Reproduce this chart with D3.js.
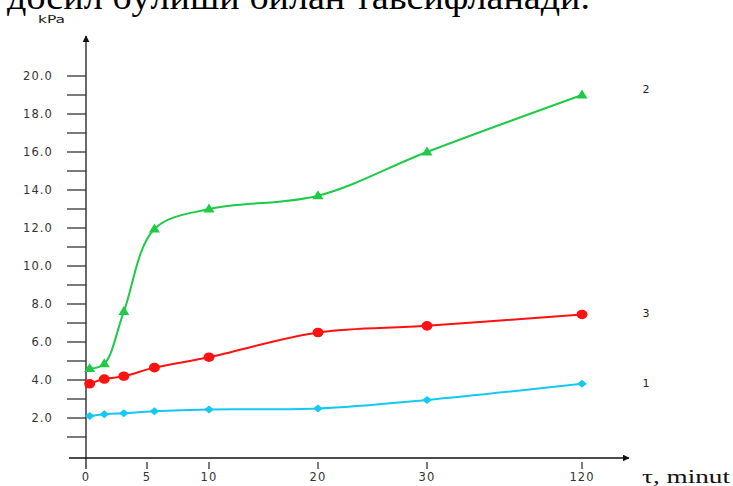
<!DOCTYPE html>
<html>
<head>
<meta charset="utf-8">
<script src="https://cdn.jsdelivr.net/npm/d3@7"></script>
<style>
  html, body { margin: 0; padding: 0; background: #fff; }
  svg { display: block; }
</style>
</head>
<body>
<svg id="chart" width="733" height="486"></svg>
<script>
// Sampling times (minutes) shared by the three series
const times = [0.3, 1.5, 3.1, 5.6, 10, 20, 30, 120];
// Pressure, kPa
const series1 = [2.1, 2.2, 2.25, 2.35, 2.45, 2.5, 2.95, 3.8];
const series2 = [4.6, 4.85, 7.6, 11.95, 13.0, 13.7, 16.0, 19.0];
const series3 = [3.8, 4.05, 4.2, 4.65, 5.2, 6.5, 6.85, 7.45];
const seriesNames = ["1", "2", "3"];

// Axis tick labels
const xTicks = [0, 5, 10, 20, 30, 120];
const yTicks = [2, 4, 6, 8, 10, 12, 14, 16, 18, 20];
const yMinorTicks = d3.range(1, 21);

const headline = "досил бўлиши билан тавсифланади.";

const svg = d3.select("#chart");

// The time axis is stretched unevenly: each labelled interval gets its own span
const x = d3.scaleLinear()
  .domain(xTicks)
  .range([86, 147, 209, 318, 427, 582]);
const y = d3.scaleLinear().domain([0, 20]).range([456, 76]);

// Partial line of body text above the figure
svg.append("text")
  .attr("x", 7).attr("y", 9)
  .attr("font-family", "Liberation Serif, Times New Roman, serif")
  .attr("font-size", 35)
  .attr("textLength", 583)
  .attr("lengthAdjust", "spacingAndGlyphs")
  .attr("fill", "#000")
  .text(headline);

// Arrow heads
const defs = svg.append("defs");
defs.append("marker")
  .attr("id", "arrow")
  .attr("viewBox", "0 0 10 10")
  .attr("refX", 9).attr("refY", 5)
  .attr("markerWidth", 7).attr("markerHeight", 7)
  .attr("markerUnits", "userSpaceOnUse")
  .attr("orient", "auto")
  .append("path").attr("d", "M0,0 L10,5 L0,10 Z").attr("fill", "#111");

// Y axis: vertical line with minor and major ticks
const axisColor = "#444";
svg.append("line")
  .attr("x1", x(0)).attr("x2", x(0))
  .attr("y1", 469).attr("y2", 36)
  .attr("stroke", axisColor).attr("stroke-width", 1.6)
  .attr("marker-end", "url(#arrow)");

svg.append("g").selectAll("line")
  .data(yMinorTicks)
  .join("line")
  .attr("x1", x(0) - 19).attr("x2", x(0))
  .attr("y1", d => y(d)).attr("y2", d => y(d))
  .attr("stroke", "#333").attr("stroke-width", 1.3);

svg.append("g").selectAll("text")
  .data(yTicks)
  .join("text")
  .attr("x", 53)
  .attr("y", d => y(d))
  .attr("dy", "0.35em")
  .attr("text-anchor", "end")
  .attr("font-family", "DejaVu Sans, Verdana, sans-serif")
  .attr("font-size", 11.5)
  .attr("letter-spacing", 1.1)
  .attr("fill", "#333")
  .text(d => d.toFixed(1));

svg.append("text")
  .attr("x", 38).attr("y", 23)
  .attr("font-family", "DejaVu Sans, Verdana, sans-serif")
  .attr("font-size", 10.5)
  .attr("textLength", 27)
  .attr("lengthAdjust", "spacingAndGlyphs")
  .attr("fill", "#222")
  .text("kPa");

// X axis: horizontal line with short ticks below
svg.append("line")
  .attr("x1", 69).attr("x2", 629)
  .attr("y1", 458).attr("y2", 458)
  .attr("stroke", "#111").attr("stroke-width", 1.4)
  .attr("marker-end", "url(#arrow)");

svg.append("g").selectAll("line")
  .data(xTicks.slice(1))
  .join("line")
  .attr("x1", d => x(d)).attr("x2", d => x(d))
  .attr("y1", 462).attr("y2", 469)
  .attr("stroke", "#444").attr("stroke-width", 1.4);

svg.append("g").selectAll("text")
  .data(xTicks)
  .join("text")
  .attr("x", d => x(d))
  .attr("y", 481)
  .attr("text-anchor", "middle")
  .attr("font-family", "DejaVu Sans, Verdana, sans-serif")
  .attr("font-size", 11.5)
  .attr("letter-spacing", 1.1)
  .attr("fill", "#333")
  .text(d => d);

svg.append("text")
  .attr("x", 642).attr("y", 483)
  .attr("font-family", "Liberation Serif, Times New Roman, serif")
  .attr("font-size", 19)
  .attr("textLength", 88)
  .attr("lengthAdjust", "spacingAndGlyphs")
  .attr("fill", "#111")
  .text("τ, minut");

// Series
const line = d3.line()
  .x((d, i) => x(times[i]))
  .y(d => y(d))
  .curve(d3.curveCatmullRom.alpha(0.5));

const seriesList = [
  { name: seriesNames[0], values: series1, color: "#14c8f2", shape: "diamond", labelShift: -1 },
  { name: seriesNames[1], values: series2, color: "#1ecb46", shape: "triangle", labelShift: -6 },
  { name: seriesNames[2], values: series3, color: "#ff1111", shape: "circle", labelShift: -1 }
];

const shapePath = {
  diamond: "M0,-4 L4.8,0 L0,4 L-4.8,0 Z",
  triangle: "M0,-5.5 L5.5,3.5 L-5.5,3.5 Z",
  circle: "M-5.5,0 A5.5,4.8 0 1,0 5.5,0 A5.5,4.8 0 1,0 -5.5,0 Z"
};

seriesList.forEach(s => {
  const g = svg.append("g");
  g.append("path")
    .attr("d", line(s.values))
    .attr("fill", "none")
    .attr("stroke", s.color)
    .attr("stroke-width", 2);
  g.selectAll("path.pt")
    .data(s.values)
    .join("path")
    .attr("class", "pt")
    .attr("transform", (d, i) => `translate(${x(times[i])},${y(d)})`)
    .attr("d", shapePath[s.shape])
    .attr("fill", s.color);
  // Series number to the right of the last point
  svg.append("text")
    .attr("x", 646)
    .attr("y", y(s.values[s.values.length - 1]) + s.labelShift)
    .attr("dy", "0.35em")
    .attr("text-anchor", "middle")
    .attr("font-family", "DejaVu Sans, Verdana, sans-serif")
    .attr("font-size", 11)
    .attr("fill", "#222")
    .text(s.name);
});
</script>
</body>
</html>
